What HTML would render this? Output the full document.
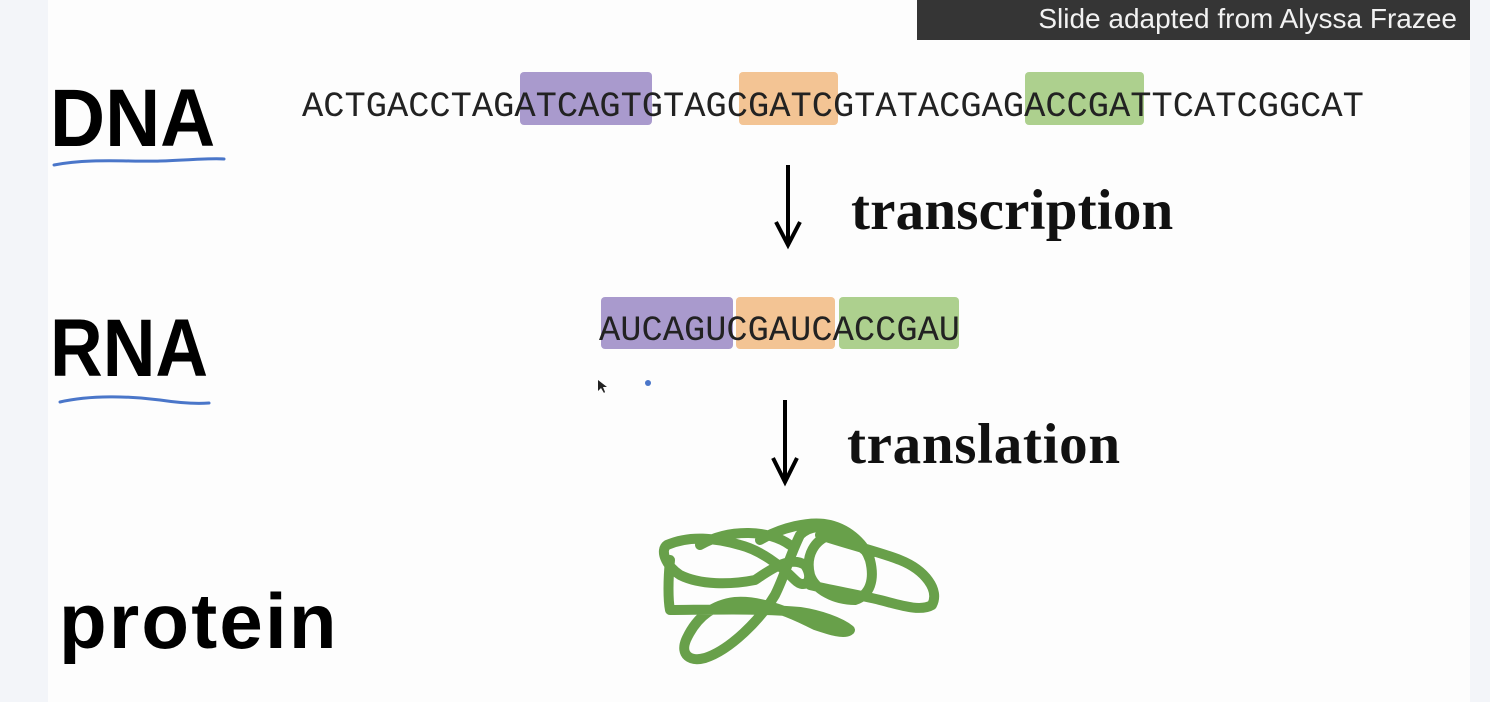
<!DOCTYPE html>
<html><head><meta charset="utf-8"><style>
html,body{margin:0;padding:0;}
body{width:1490px;height:702px;background:#f3f5f9;position:relative;overflow:hidden;font-family:"Liberation Sans",sans-serif;}
#slide{position:absolute;left:48px;top:0;width:1422px;height:702px;background:#fdfdfd;}
.abs{position:absolute;}
.lbl{position:absolute;font-weight:bold;color:#000;white-space:nowrap;line-height:1;transform-origin:left top;}
.seq{position:absolute;font-family:"Liberation Mono","Courier New","Nimbus Mono PS","Nimbus Mono L","FreeMono",Courier,monospace;font-size:35.4px;color:#222;line-height:1;white-space:nowrap;}
.hl{position:absolute;border-radius:4px;}
.serif{position:absolute;font-family:"Liberation Serif",serif;font-weight:bold;font-size:57px;color:#111;line-height:1;white-space:nowrap;}
</style></head><body>
<div id="slide"></div>
<div class="abs" style="left:917px;top:0;width:553px;height:40px;background:#353535;"></div>
<div class="abs" style="right:33px;top:4px;color:#f2f2f2;font-size:28px;line-height:30px;">Slide adapted from Alyssa Frazee</div>

<div class="hl" style="left:520px;top:72px;width:132px;height:53px;background:#a99acd;"></div>
<div class="hl" style="left:739px;top:72px;width:99px;height:53px;background:#f3c494;"></div>
<div class="hl" style="left:1025px;top:72px;width:119px;height:53px;background:#add08e;"></div>
<div class="seq" style="left:302px;top:90px;">ACTGACCTAGATCAGTGTAGCGATCGTATACGAGACCGATTCATCGGCAT</div>

<div class="hl" style="left:601px;top:297px;width:132px;height:52px;background:#a99acd;"></div>
<div class="hl" style="left:736px;top:297px;width:99px;height:52px;background:#f3c494;"></div>
<div class="hl" style="left:839px;top:297px;width:120px;height:52px;background:#add08e;"></div>
<div class="seq" style="left:599px;top:314px;">AUCAGUCGAUCACCGAU</div>

<div class="lbl" style="left:50px;top:78px;font-size:82px;transform:scaleX(0.93);">DNA</div>
<div class="lbl" style="left:50px;top:308px;font-size:82px;transform:scaleX(0.89);">RNA</div>
<div class="lbl" style="left:59px;top:582px;font-size:78px;letter-spacing:2.2px;">protein</div>

<div class="serif" style="left:851px;top:182px;letter-spacing:0.2px;">transcription</div>
<div class="serif" style="left:847px;top:416px;letter-spacing:0.7px;">translation</div>

<svg class="abs" style="left:0;top:0" width="1490" height="702">
  <g stroke="#000" stroke-width="4" fill="none">
    <line x1="788" y1="165" x2="788" y2="243"/>
    <polyline points="776,222 788,245 800,222"/>
  </g>
  <g stroke="#000" stroke-width="4" fill="none">
    <line x1="785" y1="400" x2="785" y2="480"/>
    <polyline points="773,458 785,482 797,458"/>
  </g>
  <path d="M54,165 C90,158 130,162 160,161 C190,160 210,158 224,159" stroke="#4a76c9" stroke-width="3" fill="none" stroke-linecap="round"/>
  <path d="M60,402 C90,395 130,396 160,400 C180,403 195,404 209,403" stroke="#4a76c9" stroke-width="3" fill="none" stroke-linecap="round"/>
  <circle cx="648" cy="383" r="3" fill="#4a76c9"/>
  <path d="M598,380 L598,391 L601,388 L604,393 L605,392 L603,387 L607,387 Z" fill="#222"/>
  <path fill="none" stroke="#68a04a" stroke-width="10" stroke-linecap="round" stroke-linejoin="round"
   d="M667,545 C690,535 715,538 740,545 C760,550 780,565 795,580 C805,590 815,580 805,565 C790,555 770,570 755,580 C730,585 700,585 680,575 C665,565 660,550 667,545
   M700,545 C730,528 770,530 790,545
   M760,540 C780,528 810,520 830,525 C850,530 865,545 870,560 C875,580 870,595 855,600 C835,600 815,590 810,575 C805,555 815,540 830,535 C845,535 860,545 870,555
   M820,535 C850,545 880,552 900,560 C925,570 940,590 932,605 C920,612 900,605 880,600 C860,595 830,590 810,585
   M670,560 C668,580 668,600 670,610 C700,610 760,608 800,612 C820,615 840,622 850,630 C845,635 830,630 815,625 C790,612 760,600 735,602 C710,605 695,620 686,640 C680,655 690,662 705,658 C730,650 760,620 775,595 C785,575 790,555 800,535 C810,525 825,525 835,532"/>
</svg>
</body></html>
